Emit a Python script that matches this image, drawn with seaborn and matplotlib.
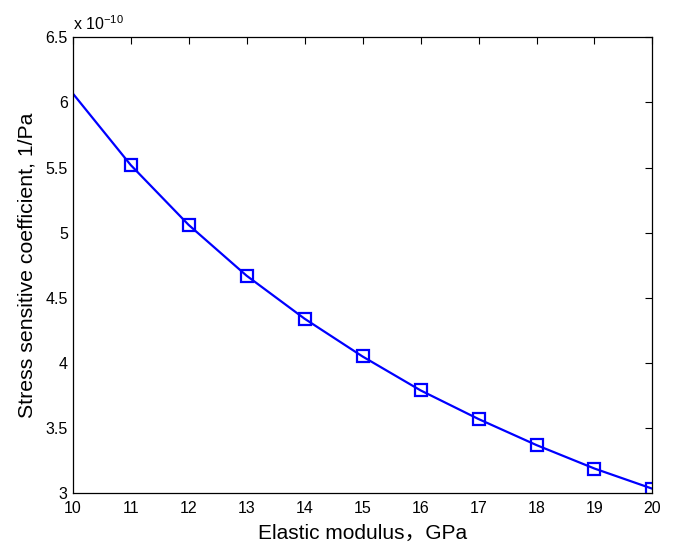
import matplotlib
matplotlib.use("Agg")
import matplotlib.pyplot as plt
from matplotlib.ticker import FuncFormatter, FixedLocator
import seaborn as sns
import pandas as pd

# Elastic modulus (GPa) and stress sensitive coefficient (1/Pa)
modulus = [10, 11, 12, 13, 14, 15, 16, 17, 18, 19, 20]
coeff_e10 = [6.07, 5.52, 5.06, 4.67, 4.34, 4.05, 3.79, 3.57, 3.37, 3.19, 3.035]
x_ticks = [10, 11, 12, 13, 14, 15, 16, 17, 18, 19, 20]
y_ticks_e10 = [3, 3.5, 4, 4.5, 5, 5.5, 6, 6.5]
scale = 1e-10

df = pd.DataFrame({"E": modulus, "C": [v * scale for v in coeff_e10]})

sns.set_theme(style="white")
plt.rcParams["font.family"] = ["Liberation Sans", "Noto Sans CJK SC", "DejaVu Sans"]
plt.rcParams["mathtext.fontset"] = "custom"
plt.rcParams["mathtext.rm"] = "Liberation Sans"
plt.rcParams["mathtext.it"] = "Liberation Sans"

fig = plt.figure(figsize=(6.76, 5.48), dpi=100)
ax = fig.add_axes([0.1075, 0.0998, 0.8577, 0.8322])

sns.lineplot(data=df, x="E", y="C", ax=ax, color="#0000ff", linewidth=1.6,
             marker="s", markersize=8.5, markerfacecolor="none",
             markeredgecolor="#0000ff", markeredgewidth=1.6,
             markevery=list(range(1, len(modulus))))

ax.set_xlim(10, 20)
ax.set_ylim(3 * scale, 6.5 * scale)
ax.xaxis.set_major_locator(FixedLocator(x_ticks))
ax.yaxis.set_major_locator(FixedLocator([v * scale for v in y_ticks_e10]))
ax.yaxis.set_major_formatter(FuncFormatter(lambda v, p: "%g" % round(v / scale, 3)))
ax.xaxis.set_major_formatter(FuncFormatter(lambda v, p: "%g" % v))

ax.tick_params(axis="both", which="major", direction="in", length=5, width=0.8,
               colors="black", labelsize=11.5, top=True, right=True)
ax.tick_params(axis="x", pad=5.5)
ax.tick_params(axis="y", pad=3.5)
for sp in ax.spines.values():
    sp.set_color("black")
    sp.set_linewidth(0.9)

ax.set_xlabel("Elastic modulus，GPa", fontsize=15, color="black")
ax.set_ylabel("Stress sensitive coefficient, 1/Pa", fontsize=15.3, color="black")
ax.xaxis.set_label_coords(0.5, -0.067)
ax.yaxis.set_label_coords(-0.063, 0.5)

ax.text(0.0, 1.01, r"x 10$^{-10}$", transform=ax.transAxes, fontsize=11.5,
        ha="left", va="bottom", color="black")

fig.savefig("out.png", dpi=100, facecolor="white")
